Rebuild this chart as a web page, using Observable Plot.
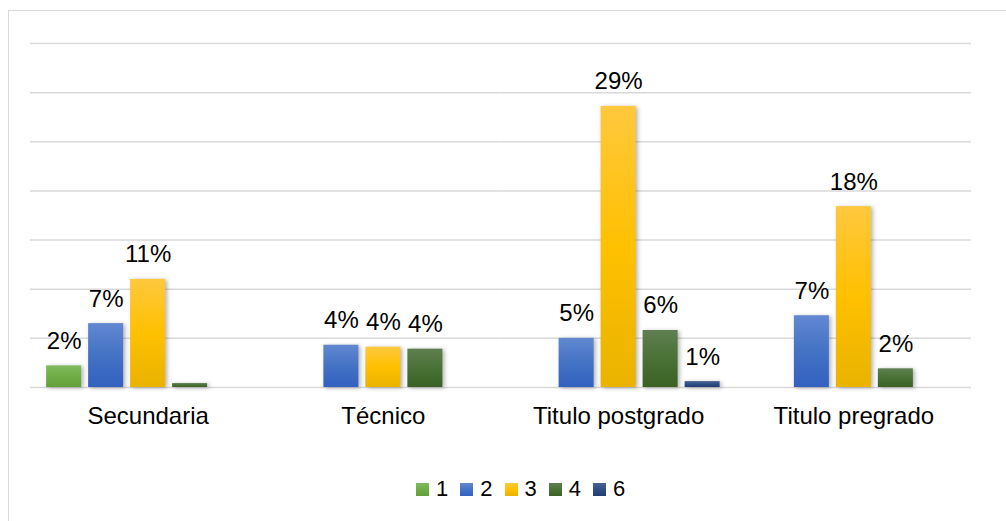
<!DOCTYPE html>
<html>
<head>
<meta charset="utf-8">
<script src="https://cdn.jsdelivr.net/npm/d3@7"></script>
<script src="https://cdn.jsdelivr.net/npm/@observablehq/plot@0.6"></script>
<style>
  html, body { margin: 0; padding: 0; background: #fff; }
  #wrap { position: relative; width: 1006px; height: 521px; overflow: hidden; font-family: "Liberation Sans", Arial, sans-serif; }
  #frame { position: absolute; left: 8px; top: 10px; width: 1020px; height: 540px; border: 1.5px solid #d9d9d9; box-sizing: border-box; }
  #chart { position: absolute; left: 0; top: 0; }
  #legend { position: absolute; left: 416px; top: 476px; display: flex; align-items: center; font-size: 22px; color: #000; }
  .item { display: flex; align-items: center; margin-right: 12px; }
  .sw { width: 13px; height: 13px; margin-right: 7px; }
</style>
</head>
<body>
<div id="wrap">
  <div id="frame"></div>
  <div id="chart"></div>
  <div id="legend"></div>
</div>
<script>
// Data (percent)
const categories = ["Secundaria", "Técnico", "Titulo postgrado", "Titulo pregrado"];
const seriesNames = ["1", "2", "3", "4", "6"];
const s1 = [2.2, null, null, null];
const s2 = [6.5, 4.3, 5.0, 7.3];
const s3 = [11.0, 4.1, 28.6, 18.4];
const s4 = [0.4, 3.9, 5.8, 1.9];
const s6 = [null, null, 0.6, null];
const yTicks = [0, 5, 10, 15, 20, 25, 30, 35];

const seriesValues = [s1, s2, s3, s4, s6];
const gradients = {
  "1": ["#80bb5e", "#70ad47", "#64a03a"],
  "2": ["#6288d1", "#4472c4", "#3261c0"],
  "3": ["#ffc83e", "#ffc000", "#e9b300"],
  "4": ["#5f7f50", "#4a7136", "#3a6225"],
  "6": ["#4a6493", "#2f4e84", "#203e72"]
};

const rows = [];
seriesNames.forEach((s, i) => {
  categories.forEach((c, j) => {
    const v = seriesValues[i][j];
    if (v != null) rows.push({cat: c, series: s, value: v});
  });
});
const labeled = rows.filter(d => d.value >= 0.5);

const plot = Plot.plot({
  width: 1006,
  height: 460,
  marginLeft: 30,
  marginRight: 35,
  marginTop: 43,
  marginBottom: 73,
  style: {fontFamily: "'Liberation Sans', Arial, sans-serif", fontSize: "24px", color: "#000", background: "transparent"},
  fx: {domain: categories, padding: 0, round: false, label: null, axis: "bottom", tickSize: 0, tickPadding: 19},
  x: {domain: seriesNames, paddingInner: 0.1667, paddingOuter: 0.384, round: false, axis: null},
  y: {domain: [0, 35], axis: null},
  color: {type: "ordinal", domain: seriesNames, range: seriesNames.map(s => `url(#grad${s})`)},
  marks: [
    Plot.ruleY(yTicks, {stroke: "#d9d9d9", strokeWidth: 1.5}),
    Plot.barY(rows, {fx: "cat", x: "series", y: "value", fill: "series"}),
    Plot.text(labeled, {fx: "cat", x: "series", y: "value", text: d => Math.round(d.value) + "%", dy: -17, lineAnchor: "bottom", fill: "#000"})
  ]
});

const svg = d3.select(plot);
const defs = svg.insert("defs", ":first-child");
seriesNames.forEach(s => {
  const g = defs.append("linearGradient").attr("id", "grad" + s).attr("x1", 0).attr("y1", 0).attr("x2", 0).attr("y2", 1);
  const c = gradients[s];
  g.append("stop").attr("offset", "0%").attr("stop-color", c[0]);
  g.append("stop").attr("offset", "50%").attr("stop-color", c[1]);
  g.append("stop").attr("offset", "100%").attr("stop-color", c[2]);
});
svg.selectAll("g[aria-label='bar'] rect").style("filter", "drop-shadow(2px 1px 2px rgba(0,0,0,0.3))");
document.getElementById("chart").appendChild(plot);

const legend = d3.select("#legend");
seriesNames.forEach(s => {
  const it = legend.append("div").attr("class", "item");
  const c = gradients[s];
  it.append("div").attr("class", "sw").style("background", `linear-gradient(${c[0]}, ${c[1]}, ${c[2]})`);
  it.append("span").text(s);
});
</script>
</body>
</html>
